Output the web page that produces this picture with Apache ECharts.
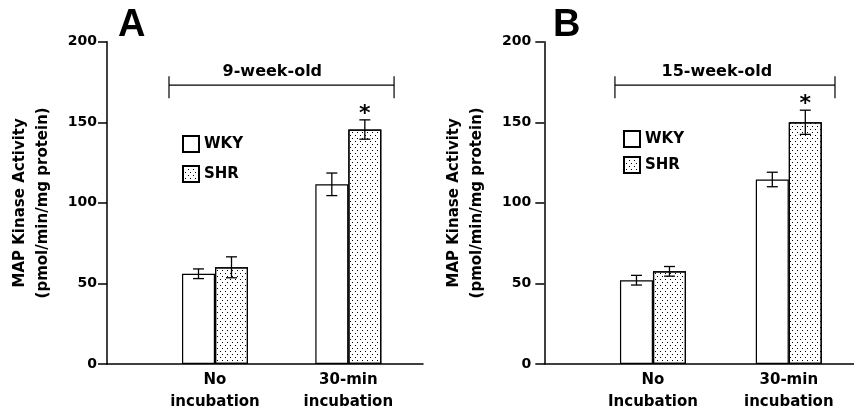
<!DOCTYPE html>
<html>
<head>
<meta charset="utf-8">
<script src="https://cdn.jsdelivr.net/npm/echarts@6/dist/echarts.min.js"></script>
<style>
  html, body { margin: 0; padding: 0; background: #fff; }
  #chart { width: 854px; height: 413px; }
</style>
</head>
<body>
<div id="chart"></div>
<script>
// 数据
const categoriesA = ['No\nincubation', '30-min\nincubation'];
const categoriesB = ['No\nIncubation', '30-min\nincubation'];
const seriesNames = ['WKY', 'SHR'];
const yTicks = [0, 50, 100, 150, 200];

const wkyA = [56, 111.5];
const wkyErrA = [3, 7];
const shrA = [60, 145.5];
const shrErrA = [6.5, 6];
const sigA = ['', '*'];

const wkyB = [52, 114.5];
const wkyErrB = [3, 4.5];
const shrB = [57.5, 150];
const shrErrB = [3, 7.5];
const sigB = ['', '*'];

// [start, end, y, label x]
const bracketA = [-0.345, 1.343, 173, 0.43];
const bracketB = [-0.28, 1.34, 173, 0.47];
const ageLabels = ['9-week-old', '15-week-old'];

const FONT = 'DejaVu Sans';
const BAR_W = 33;

const dotDecal = {
    symbol: 'rect',
    symbolSize: 1,
    color: '#000',
    dashArrayX: [[1, 4], [0, 2, 1, 2]],
    dashArrayY: [1, 2],
    rotation: 0
};

function barSeries(name, values, idx, decal) {
    return {
        name: name,
        type: 'bar',
        xAxisIndex: idx,
        yAxisIndex: idx,
        data: values.map((v, i) => [i, v]),
        barWidth: BAR_W,
        barGap: '0%',
        itemStyle: {
            color: '#fff',
            borderColor: '#000',
            borderWidth: 1.2,
            decal: decal
        }
    };
}

// 误差线 + 显著性标记
function errorSeries(values, errs, sig, idx, offset) {
    return {
        type: 'custom',
        xAxisIndex: idx,
        yAxisIndex: idx,
        z: 5,
        data: values.map((v, i) => [i, v, errs[i]]),
        renderItem: function (params, api) {
            const x = api.value(0), y = api.value(1), e = api.value(2);
            const top = api.coord([x, y + e]);
            const bot = api.coord([x, y - e]);
            const cx = top[0] + offset;
            const st = {stroke: '#000', lineWidth: 1.3};
            const children = [
                {type: 'line', shape: {x1: cx, y1: top[1], x2: cx, y2: bot[1]}, style: st},
                {type: 'line', shape: {x1: cx - 5.5, y1: top[1], x2: cx + 5.5, y2: top[1]}, style: st},
                {type: 'line', shape: {x1: cx - 5.5, y1: bot[1], x2: cx + 5.5, y2: bot[1]}, style: st}
            ];
            const s = sig ? sig[params.dataIndex] : '';
            if (s) {
                children.push({
                    type: 'text',
                    style: {
                        text: s, x: cx, y: top[1] - 6,
                        align: 'center', verticalAlign: 'middle',
                        fontSize: 22, fontWeight: 'bold', fontFamily: FONT, fill: '#000'
                    }
                });
            }
            return {type: 'group', children: children};
        }
    };
}

// 年龄括号
function bracketSeries(b, label, idx) {
    return {
        type: 'custom',
        xAxisIndex: idx,
        yAxisIndex: idx,
        data: [b],
        renderItem: function (params, api) {
            const p0 = api.coord([api.value(0), api.value(2)]);
            const p1 = api.coord([api.value(1), api.value(2)]);
            const pl = api.coord([api.value(3), api.value(2)]);
            const st = {stroke: '#000', lineWidth: 1.2};
            return {
                type: 'group',
                children: [
                    {type: 'line', shape: {x1: p0[0], y1: p0[1], x2: p1[0], y2: p1[1]}, style: st},
                    {type: 'line', shape: {x1: p0[0], y1: p0[1] - 9, x2: p0[0], y2: p0[1] + 13}, style: st},
                    {type: 'line', shape: {x1: p1[0], y1: p1[1] - 9, x2: p1[0], y2: p1[1] + 13}, style: st},
                    {
                        type: 'text',
                        style: {
                            text: label, x: pl[0], y: pl[1] - 13,
                            align: 'center', verticalAlign: 'middle',
                            fontSize: 16, fontWeight: 'bold', fontFamily: FONT, fill: '#000'
                        }
                    }
                ]
            };
        }
    };
}

function xAxisFor(idx, min, max, cats) {
    return {
        type: 'value',
        gridIndex: idx,
        min: min,
        max: max,
        splitLine: {show: false},
        axisTick: {show: false},
        axisLine: {onZero: false, lineStyle: {color: '#000', width: 1.5}},
        axisLabel: {
            customValues: [0, 1],
            formatter: v => cats[Math.round(v)],
            margin: 5,
            color: '#000',
            fontSize: 15,
            fontWeight: 'bold',
            fontFamily: FONT,
            lineHeight: 22
        }
    };
}

function yAxisFor(idx, nameGap, labelMargin) {
    return {
        type: 'value',
        gridIndex: idx,
        min: yTicks[0],
        max: yTicks[yTicks.length - 1],
        interval: 50,
        name: 'MAP Kinase Activity\n(pmol/min/mg protein)',
        nameLocation: 'middle',
        nameGap: nameGap,
        nameTextStyle: {
            color: '#000', fontSize: 15, fontWeight: 'bold', fontFamily: FONT, lineHeight: 23
        },
        splitLine: {show: false},
        axisLine: {show: true, onZero: false, lineStyle: {color: '#000', width: 1.5}},
        axisTick: {show: true, length: 9, lineStyle: {color: '#000', width: 1.5}},
        axisLabel: {
            margin: labelMargin, color: '#000', fontSize: 14, fontWeight: 'bold', fontFamily: FONT
        }
    };
}

function legendFor(left, top, gap) {
    return {
        data: seriesNames,
        orient: 'vertical',
        left: left,
        top: top,
        padding: 0,
        itemGap: gap,
        itemWidth: 16,
        itemHeight: 16,
        icon: 'rect',
        selectedMode: false,
        textStyle: {color: '#000', fontSize: 15, fontWeight: 'bold', fontFamily: FONT, lineHeight: 16}
    };
}

const option = {
    animation: false,
    backgroundColor: '#fff',
    title: [
        {text: 'A', left: 118, top: 7, padding: 0,
            textStyle: {fontSize: 38, fontWeight: 'bold', fontFamily: 'Liberation Sans', color: '#000'}},
        {text: 'B', left: 553, top: 7, padding: 0,
            textStyle: {fontSize: 38, fontWeight: 'bold', fontFamily: 'Liberation Sans', color: '#000'}}
    ],
    legend: [legendFor(182, 135, 12), legendFor(623, 130, 8)],
    grid: [
        {left: 107, right: 431, top: 41.7, bottom: 46.3},
        {left: 544.3, right: 0, top: 41.7, bottom: 46.3}
    ],
    xAxis: [xAxisFor(0, -0.81, 1.56, categoriesA), xAxisFor(1, -0.8, 1.48, categoriesB)],
    yAxis: [yAxisFor(0, 52, 10), yAxisFor(1, 56, 13)],
    series: [
        barSeries('WKY', wkyA, 0, null),
        barSeries('SHR', shrA, 0, dotDecal),
        barSeries('WKY', wkyB, 1, null),
        barSeries('SHR', shrB, 1, dotDecal),
        errorSeries(wkyA, wkyErrA, null, 0, -BAR_W / 2),
        errorSeries(shrA, shrErrA, sigA, 0, BAR_W / 2),
        errorSeries(wkyB, wkyErrB, null, 1, -BAR_W / 2),
        errorSeries(shrB, shrErrB, sigB, 1, BAR_W / 2),
        bracketSeries(bracketA, ageLabels[0], 0),
        bracketSeries(bracketB, ageLabels[1], 1)
    ]
};

const chart = echarts.init(document.getElementById('chart'));
chart.setOption(option);
</script>
</body>
</html>
